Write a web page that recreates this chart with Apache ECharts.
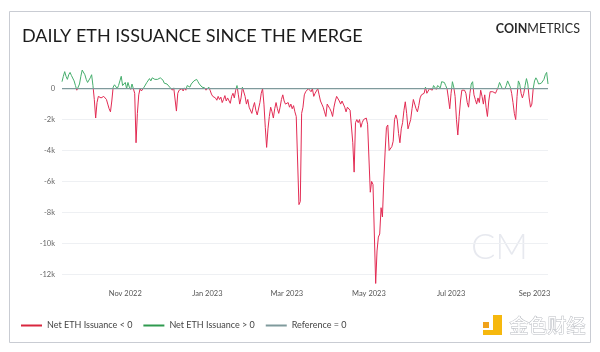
<!DOCTYPE html>
<html>
<head>
<meta charset="utf-8">
<script src="https://cdn.jsdelivr.net/npm/echarts@6/dist/echarts.min.js"></script>
<style>html,body{margin:0;padding:0;background:#fff;}#c{width:600px;height:352px;}</style>
</head>
<body>
<div id="c"></div>
<script>
// ---- data ----
const startDate = '2022-09-15';
// Daily net ETH issuance (ETH), Sep 15 2022 .. Sep 11 2023
const netIssuance = [
 450, 800,1100, 800, 600, 900,1050, 850, 900, 500,
 200,-100, -50, 300, 800,1200,1300, 900, 600, 400,
 500, 700, 900, 200,-700,-1900,-900,-500,-400,-600,
 -700,-500,-600,-700,-1000,-1300,-1500,-800, 100, 250,
 300,   0, 200, 500, 800, 200, 300, 400,   0, 400,
 100, -50, 300,   0,-300,-3500,-1600,-400,  0,-150,
 -100, 100, 200, 400, 500, 650, 500, 700, 800, 600,
 500, 600, 550, 700, 600, 550, 350, 450, 300, 200,
 100,   0,-100,  50,   0,-1450,-300,-100,-200,  0,
 -150,  50,-100, 200, 250, 100, 300, 400, 500, 550,
 600, 450, 300, 200, 100,   0,  50,-100,-200, 100,
 -100,-350,-500,-400,-600,-750,-500,-700,-550,-900,
 -700,-450,-800,-600,-700,-950,-500,-300,-600,-100,
 200,-400,-1000,-600, 100,   0,-500,-1000,-700,-1200,
 -1300,-1600,-1200,-900,-1400,-1700,-1800,-900,-300,  0,
 -1000,-2500,-3800,-2600,-1800,-1200,-1500,-1900,-1300,-900,
 -1300,-1600,-1200,-700,-400,-800,-1000,-1100,-900,-1200,
 -1000,-1300,-1100,-1500,-1800,-1800,-7500,-7300,-1600,-1200,
 -400,-200,-300,   0,-100,-200,   0,-500,-300,-200,
   0,-400,-800,-1000,-1200,-1500,-1800,-1000,-900,-1300,
 -1500,-1800,-1200,-800,-500,-400,-800,-1000,-800,-900,
 -1200,-1500,-1200,-1100,-1400,-1500,-3500,-5400,-2200,-2000,
 -2200,-2000,-2500,-2200,-2000,-1950,-1900,-2300,-2400,-6700,
 -6000,-6200,-6300,-12600,-10500,-9600,-9400,-7700,-8300,-6000,
 -4100,-2500,-2350,-4000,-3900,-3750,-3400,-2000,-1700,-2000,
 -2900,-3500,-2600,-2200,-1400,-850,-1600,-2600,-2300,-2000,
 -1300,-700,-700,-1300,-1500,-1100,-600,-400,-500,-300,
 100,-300,-200,   0, 100,-100, 200, 100, -50, 200,
 250,  50, 450, 550, 400, 200,   0,-600,-1300,-300,
 450, 100,-500,-2000,-3000,-1800,-800,-100,   0,-100,
 -300,-900,-1200,-300, 300, 450,-400,-700,-1000,-600,
 -900,-100,-500,-1000,-400,-1200,-1800,-800,-200,-100,
 -200,-100,-300,-100, 100, 400, 300,   0,-100,   0,
 200, 500, 400, 100,-300,-900,-1600,-2000,-500, 500,
 300,-300,-600,-300, 200, 650, 300,-600,-1200,-1000,
   0, 500, 700, 550, 300, 250, 350, 300, 600, 900,
 1050, 300
];
const referenceValue = 0;
const monthNames = ['Jan','Feb','Mar','Apr','May','Jun','Jul','Aug','Sep','Oct','Nov','Dec'];
const labelMonths = [11, 1, 3, 5, 7, 9];
const seriesNames = ['Net ETH Issuance < 0', 'Net ETH Issuance > 0', 'Reference = 0'];

// ---- build categories ----
const dates = [];
{
  const d0 = new Date(startDate + 'T00:00:00Z');
  for (let i = 0; i < netIssuance.length; i++) {
    const d = new Date(d0.getTime() + i * 86400000);
    dates.push(d.toISOString().slice(0, 10));
  }
}

const RED = '#e22a52', GREEN = '#45ad6c', GREY = '#7f9a9c';

const chart = echarts.init(document.getElementById('c'), null, {renderer: 'canvas'});
chart.setOption({
  animation: false,
  backgroundColor: '#fff',
  textStyle: {fontFamily: 'Lato'},
  title: {
    text: 'DAILY ETH ISSUANCE SINCE THE MERGE',
    left: 17, top: 22,
    textStyle: {fontFamily: 'Lato', fontSize: 18, fontWeight: 'normal', color: '#1c1c1c'}
  },
  graphic: [
    {type: 'rect', shape: {x: 9.5, y: 11.5, width: 581, height: 331}, style: {fill: 'none', stroke: '#c9ccd3', lineWidth: 1}, silent: true, z: -10},
    {type: 'text', right: 20, top: 22, style: {
      text: '{b|COIN}{l|METRICS}',
      rich: {b: {fontFamily: 'Lato', fontWeight: 'bold', fontSize: 12.5, fill: '#2a2a2a'},
             l: {fontFamily: 'Lato', fontWeight: 'normal', fontSize: 12.5, fill: '#2a2a2a'}}
    }},
    {type: 'text', left: 471, top: 229, z: -5, style: {text: 'CM', fontFamily: 'Lato', fontSize: 36, fontWeight: 300, fill: '#e7e9ef'}},
    {type: 'rect', shape: {x: 483, y: 322, width: 6, height: 6}, style: {fill: '#f0a21a'}},
    {type: 'rect', shape: {x: 493, y: 315, width: 9, height: 20}, style: {fill: '#f6b80e'}},
    {type: 'rect', shape: {x: 483, y: 330, width: 19, height: 5}, style: {fill: '#f6b80e'}},
    {type: 'text', left: 509, top: 316, style: {text: '金色财经', fontFamily: 'Noto Sans CJK SC', fontSize: 19, fill: '#ffffff', stroke: '#b9bcc2', lineWidth: 1}}
  ],
  legend: {
    left: 21, top: 321, padding: 0,
    itemWidth: 21, itemHeight: 2, itemGap: 11,
    icon: 'rect',
    textStyle: {fontFamily: 'Lato', fontSize: 9, color: '#444'},
    data: [
      {name: seriesNames[0], itemStyle: {color: '#d9263e'}},
      {name: seriesNames[1], itemStyle: {color: '#2f9a4f'}},
      {name: seriesNames[2], itemStyle: {color: GREY}}
    ]
  },
  grid: {left: 62, right: 52, top: 67, bottom: 67},
  xAxis: {
    type: 'category',
    data: dates,
    boundaryGap: false,
    axisLine: {show: false},
    axisTick: {show: false},
    axisLabel: {
      fontFamily: 'Lato', fontSize: 7.5, color: '#555', margin: 5,
      interval: function (idx, val) {
        const p = val.split('-');
        return p[2] === '01' && labelMonths.indexOf(+p[1]) >= 0;
      },
      formatter: function (val) {
        const p = val.split('-');
        return monthNames[+p[1] - 1] + ' ' + p[0];
      }
    },
    splitLine: {show: false}
  },
  yAxis: {
    type: 'value',
    min: -12700, max: 1400,
    splitNumber: 7,
    axisLine: {show: false},
    axisTick: {show: false},
    axisLabel: {
      fontFamily: 'Lato', fontSize: 7.5, color: '#666', margin: 7,
      showMinLabel: false, showMaxLabel: false,
      formatter: function (v) { return v === 0 ? '0' : (v / 1000) + 'k'; }
    },
    splitLine: {show: true, showMinLine: false, showMaxLine: false, lineStyle: {color: '#eef0f3', width: 1}}
  },
  visualMap: {
    type: 'piecewise', show: false, seriesIndex: 0, dimension: 1,
    pieces: [{gt: -100000, lte: 0, color: RED}, {gt: 0, lte: 100000, color: GREEN}]
  },
  series: [
    {name: seriesNames[0], type: 'line', data: netIssuance, color: RED, showSymbol: false, symbol: 'none',
     lineStyle: {width: 1}, z: 2},
    {name: seriesNames[1], type: 'line', data: [], color: GREEN, showSymbol: false, symbol: 'none',
     lineStyle: {width: 1}},
    {name: seriesNames[2], type: 'line', data: netIssuance.map(function () { return referenceValue; }),
     color: GREY, showSymbol: false, symbol: 'none', lineStyle: {width: 1.3, color: GREY}, z: 3}
  ]
});
</script>
</body>
</html>
